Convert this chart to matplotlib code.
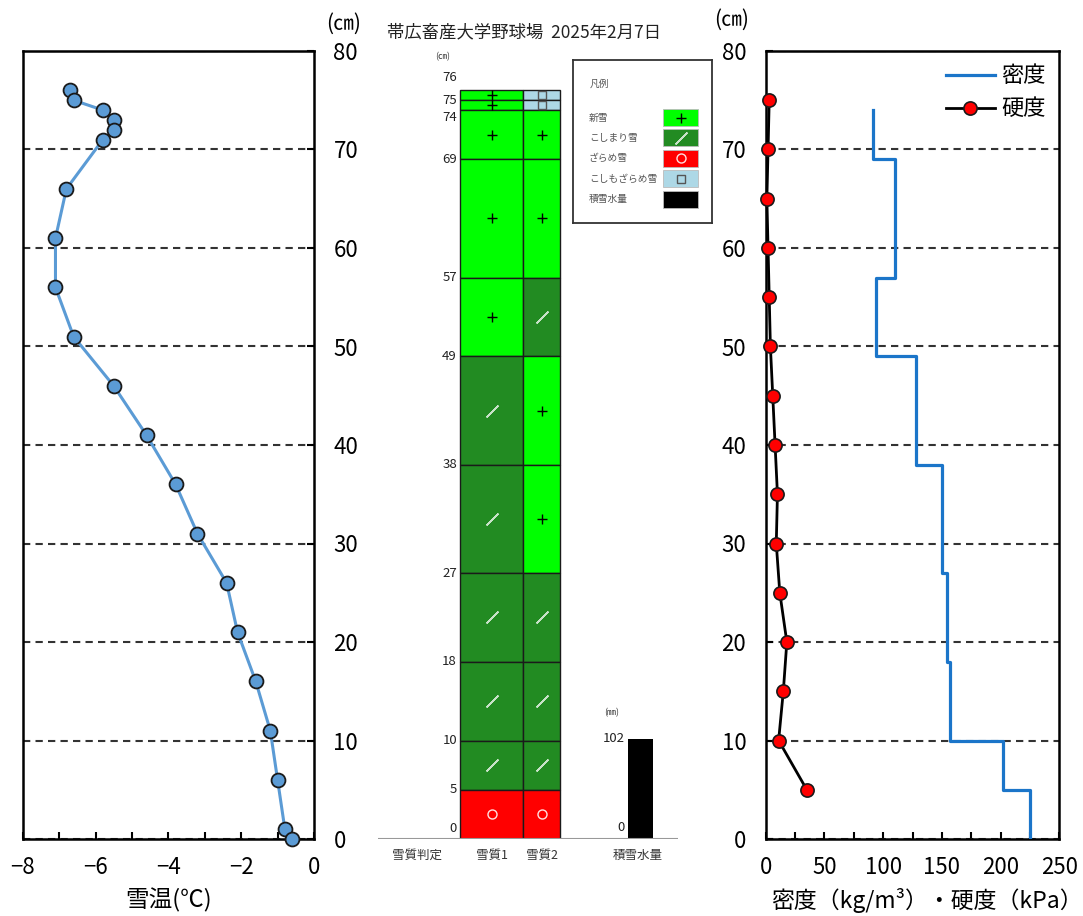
import matplotlib.pyplot as plt
from matplotlib.patches import Rectangle
from matplotlib.ticker import MultipleLocator

plt.rcParams['font.family'] = ['Noto Sans CJK JP', 'DejaVu Sans']

# --- data ---
title = '帯広畜産大学野球場  2025年2月7日'

temp_depth = [76, 75, 74, 73, 72, 71, 66, 61, 56, 51, 46, 41, 36, 31, 26, 21, 16, 11, 6, 1, 0]
temp = [-6.7, -6.6, -5.8, -5.5, -5.5, -5.8, -6.8, -7.1, -7.1, -6.6, -5.5, -4.6,
        -3.8, -3.2, -2.4, -2.1, -1.6, -1.2, -1.0, -0.8, -0.6]

layer_top = [76, 75, 74, 69, 57, 49, 38, 27, 18, 10, 5]
layer_bottom = [75, 74, 69, 57, 49, 38, 27, 18, 10, 5, 0]
quality1 = ['新雪', '新雪', '新雪', '新雪', '新雪', 'こしまり雪', 'こしまり雪',
            'こしまり雪', 'こしまり雪', 'こしまり雪', 'ざらめ雪']
quality2 = ['こしもざらめ雪', 'こしもざらめ雪', '新雪', '新雪', 'こしまり雪', '新雪', '新雪',
            'こしまり雪', 'こしまり雪', 'こしまり雪', 'ざらめ雪']
depth_labels = [76, 75, 74, 69, 57, 49, 38, 27, 18, 10, 5, 0]
swe_mm = 102

density_top = [74, 69, 57, 49, 38, 27, 18, 10, 5]
density_bottom = [69, 57, 49, 38, 27, 18, 10, 5, 0]
density = [91, 110, 94, 128, 150, 154, 157, 202, 225]

hardness_depth = [75, 70, 65, 60, 55, 50, 45, 40, 35, 30, 25, 20, 15, 10, 5]
hardness = [3, 2, 1, 2, 3, 4, 6, 8, 10, 9, 12, 18, 15, 11, 35]

legend_names = ['新雪', 'こしまり雪', 'ざらめ雪', 'こしもざらめ雪', '積雪水量']

# --- styles ---
fill = {'新雪': '#00ff00', 'こしまり雪': '#228b22', 'ざらめ雪': '#ff0000',
        'こしもざらめ雪': '#add8e6', '積雪水量': '#000000'}
symbol = {
    '新雪': dict(marker='+', ms=7, mew=1.0, color='#000000'),
    'こしまり雪': dict(marker=(2, 2, -45), ms=12, mew=1.1, color='#c8e2c8'),
    'ざらめ雪': dict(marker='o', ms=6.5, mew=1.0, mfc='none', color='#ffe0e0'),
    'こしもざらめ雪': dict(marker='s', ms=6, mew=1.0, mfc='none', color='#555555'),
}
label_shift_px = {76: 13, 74: -7, 0: 11}

W, H = 1083, 916
TOP, BOT = 51, 839


def px_box(x0, y0, x1, y1):
    return [x0 / W, 1 - y1 / H, (x1 - x0) / W, (y1 - y0) / H]


def py(ypx):
    # figure-pixel row -> depth units of the shared 0..80 scale
    return (BOT - ypx) / ((BOT - TOP) / 80)


fig = plt.figure(figsize=(W / 100, H / 100), dpi=100)

grid_kw = dict(color='#333333', lw=1.5, ls=(0, (3.5, 2.5)))
tick_kw = dict(direction='in', length=5, width=1.5, labelsize=16, colors='black')


def style_axes(ax):
    for s in ax.spines.values():
        s.set_linewidth(1.8)
        s.set_color('black')
    ax.set_ylim(0, 80)
    ax.yaxis.set_major_locator(MultipleLocator(10))
    ax.tick_params(axis='both', which='both', **tick_kw)
    ax.tick_params(axis='x', pad=12)
    ax.tick_params(axis='y', pad=14)
    ax.grid(axis='y', **grid_kw)
    ax.set_axisbelow(True)


# --- left: snow temperature ---
ax1 = fig.add_axes(px_box(22.7, TOP, 314, BOT))
style_axes(ax1)
ax1.set_xlim(-8, 0)
ax1.xaxis.set_major_locator(MultipleLocator(2))
ax1.xaxis.set_minor_locator(MultipleLocator(1))
ax1.yaxis.tick_right()
ax1.tick_params(axis='y', which='both', left=False, right=True)
ax1.plot(temp, temp_depth, color='#5b9bd5', lw=2.2, marker='o', ms=10,
         mfc='#5b9bd5', mec='#1a1a1a', mew=1.3, clip_on=False, zorder=3)
ax1.set_xlabel('雪温(℃)', fontsize=17, labelpad=7)
fig.text(344 / W, 1 - 24 / H, '(㎝)', fontsize=15, ha='center', va='center')

# --- right: density and hardness ---
ax3 = fig.add_axes(px_box(765.7, TOP, 1059.3, BOT))
style_axes(ax3)
ax3.set_xlim(0, 250)
ax3.xaxis.set_major_locator(MultipleLocator(50))
ax3.xaxis.set_minor_locator(MultipleLocator(25))
xs, ys = [], []
for d, t, b in zip(density, density_top, density_bottom):
    xs += [d, d]
    ys += [t, b]
ax3.plot(xs, ys, color='#1b75c9', lw=2.3, label='密度', zorder=3)
ax3.plot(hardness, hardness_depth, color='black', lw=2, marker='o', ms=9.5,
         mfc='#ff0000', mec='#1a1a1a', mew=1.2, clip_on=False, zorder=4, label='硬度')
ax3.set_xlabel('密度（kg/m³）・硬度（kPa）', fontsize=16.5, labelpad=7)
ax3.xaxis.label.set_x(0.55)
ax3.legend(loc='upper right', frameon=False, fontsize=16, handlelength=2.2,
           handletextpad=0.3, labelspacing=0.45, borderaxespad=0.2)
fig.text(732 / W, 1 - 20 / H, '(㎝)', fontsize=15, ha='center', va='center')

# --- middle: snow pit layers ---
ax2 = fig.add_axes(px_box(375, TOP, 715, BOT))
ax2.set_xlim(375, 715)
ax2.set_ylim(0, 80)
ax2.axis('off')

columns = [(460, 63, quality1), (523, 37, quality2)]
for x0, wdt, quals in columns:
    heights = [t - b for t, b in zip(layer_top, layer_bottom)]
    ax2.bar([x0] * len(quals), heights, bottom=layer_bottom, width=wdt, align='edge',
            color=[fill[q] for q in quals], edgecolor='#1a1a1a', linewidth=1.0)
    for q, t, b in zip(quals, layer_top, layer_bottom):
        ax2.plot(x0 + wdt / 2, (t + b) / 2, ls='none', **symbol[q])

for d in depth_labels:
    ax2.annotate(str(d), (457, d), xytext=(0, label_shift_px.get(d, 0) * 0.72),
                 textcoords='offset points', ha='right', va='center',
                 fontsize=9.5, color='#222222')
ax2.text(443, py(57), '(㎝)', fontsize=6.5, ha='center', va='center', color='#333333')

ax2.hlines(0, 378, 678, color='#999999', lw=1.5)
for x, s in [(417, '雪質判定'), (492, '雪質1'), (542, '雪質2'), (638, '積雪水量')]:
    ax2.text(x, py(855), s, fontsize=9, ha='center', va='center', color='#333333')

ax2.bar(640.5, swe_mm / 10, width=25, color='black')
ax2.text(625, swe_mm / 10, str(swe_mm), fontsize=9.5, ha='right', va='center', color='#222222')
ax2.annotate('0', (625, 0), xytext=(0, 8), textcoords='offset points',
             fontsize=9.5, ha='right', va='center', color='#222222')
ax2.text(612, py(713), '(㎜)', fontsize=6.5, ha='center', va='center', color='#333333')

fig.text(524 / W, 1 - 32 / H, title, fontsize=12.5, ha='center', va='center', color='#222222')

# --- legend box ---
axl = fig.add_axes(px_box(573, 60, 712, 223))
axl.set_xlim(573, 712)
axl.set_ylim(223, 60)
axl.set_xticks([])
axl.set_yticks([])
for s in axl.spines.values():
    s.set_linewidth(1.3)
    s.set_color('#333333')
axl.text(590, 84, '凡例', fontsize=7, ha='left', va='center', color='#555555')
for i, name in enumerate(legend_names):
    yc = 117.5 + i * 20.4
    axl.text(589, yc, name, fontsize=7, ha='left', va='center', color='#555555')
    axl.add_patch(Rectangle((663, yc - 8.5), 35, 17, facecolor=fill[name],
                            edgecolor='#bbbbbb', lw=0.6))
    if name in symbol:
        axl.plot(680.5, yc, ls='none', **symbol[name])

fig.savefig('out.png', dpi=100)
